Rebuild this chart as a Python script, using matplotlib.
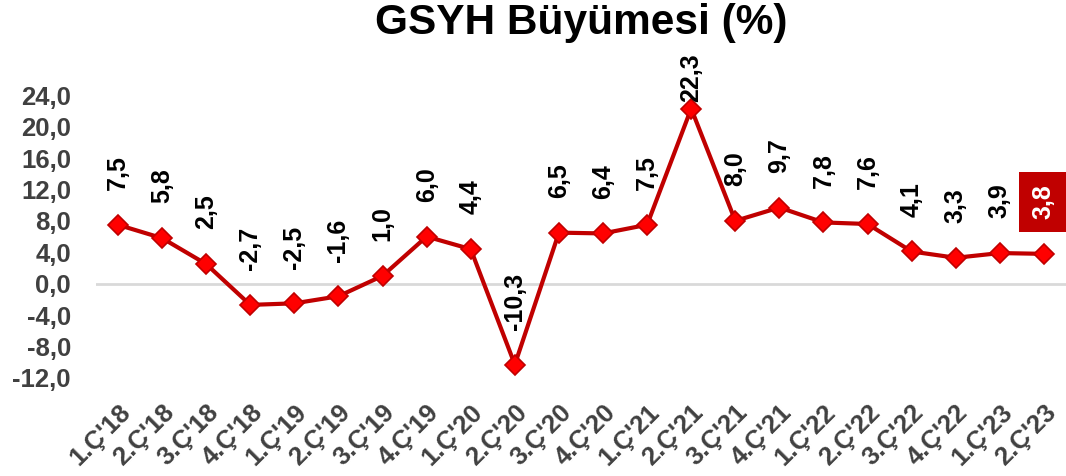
import numpy as np
import matplotlib.pyplot as plt

plt.rcParams['font.family'] = ['Liberation Sans', 'DejaVu Sans']

quarters = ["1.Ç'18", "2.Ç'18", "3.Ç'18", "4.Ç'18",
            "1.Ç'19", "2.Ç'19", "3.Ç'19", "4.Ç'19",
            "1.Ç'20", "2.Ç'20", "3.Ç'20", "4.Ç'20",
            "1.Ç'21", "2.Ç'21", "3.Ç'21", "4.Ç'21",
            "1.Ç'22", "2.Ç'22", "3.Ç'22", "4.Ç'22",
            "1.Ç'23", "2.Ç'23"]
growth = [7.5, 5.8, 2.5, -2.7, -2.5, -1.6, 1.0, 6.0, 4.4, -10.3, 6.5,
          6.4, 7.5, 22.3, 8.0, 9.7, 7.8, 7.6, 4.1, 3.3, 3.9, 3.8]
yticks = [-12, -8, -4, 0, 4, 8, 12, 16, 20, 24]


def fmt(v):
    return f"{v:.1f}".replace('.', ',')


fig = plt.figure(figsize=(10.66, 4.76), dpi=100)
ax = fig.add_axes([0.090, 0.206, 0.910, 0.594])

x = np.arange(len(growth))
ax.axhline(0, color='#D9D9D9', linewidth=2, zorder=1)
ax.plot(x, growth, color='#C00000', linewidth=3, marker='D', markersize=10,
        markerfacecolor='#FF0000', markeredgecolor='#C00000', markeredgewidth=1.2,
        zorder=3)

for i, v in enumerate(growth):
    last = i == len(growth) - 1
    off = 5 if v == max(growth) else 25
    if last:
        # son çeyrek kutu içinde vurgulanıyor
        ax.annotate(fmt(v), (i, v), xytext=(0, off), textcoords='offset points',
                    rotation=90, ha='center', va='bottom', fontsize=18,
                    fontweight='bold', color='white',
                    bbox=dict(boxstyle='square,pad=0.5', fc='#C00000', ec='none'))
    else:
        ax.annotate(fmt(v), (i, v), xytext=(0, off), textcoords='offset points',
                    rotation=90, ha='center', va='bottom', fontsize=18,
                    fontweight='bold', color='black')

ax.set_xlim(-0.5, len(growth) - 0.5)
ax.set_ylim(-12, 24)
ax.set_yticks(yticks)
ax.set_yticklabels([fmt(t) for t in yticks])
ax.set_xticks(x)
ax.set_xticklabels(quarters, rotation=45, ha='right', rotation_mode='anchor')
ax.tick_params(axis='both', length=0, labelsize=18.5, labelcolor='#404040')
ax.tick_params(axis='y', pad=18)
ax.tick_params(axis='x', pad=16)
for lab in ax.get_xticklabels() + ax.get_yticklabels():
    lab.set_fontweight('bold')
for s in ax.spines.values():
    s.set_visible(False)

fig.text(0.545, 0.952, 'GSYH Büyümesi (%)', ha='center', va='center',
         fontsize=30.5, fontweight='bold')

fig.savefig('out.png', dpi=100)
